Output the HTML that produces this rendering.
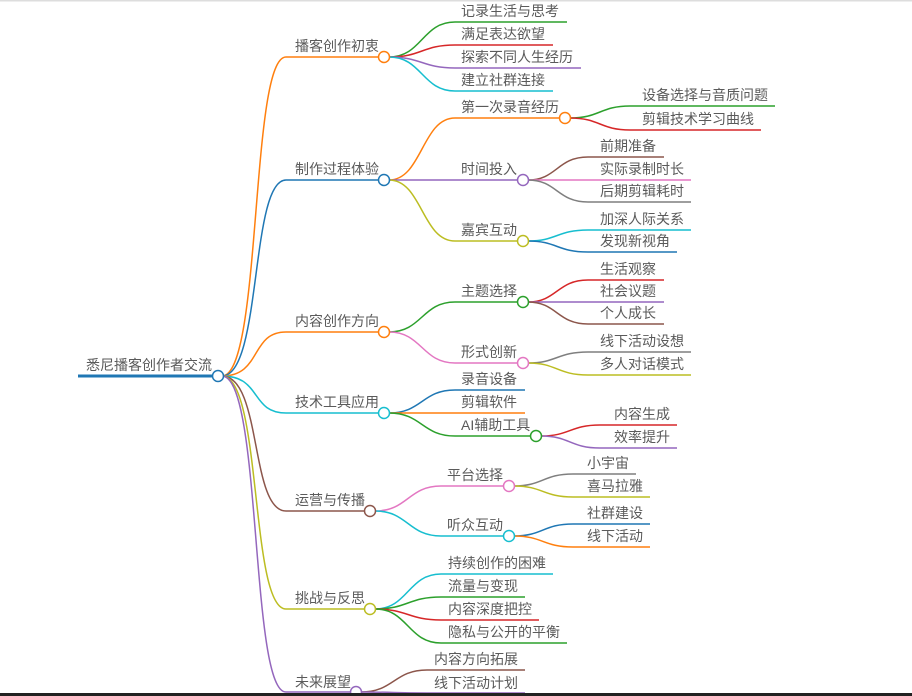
<!DOCTYPE html>
<html><head><meta charset="utf-8"><style>
html,body{margin:0;padding:0;background:#fff;width:912px;height:696px;overflow:hidden}
svg{display:block}
text{font-family:"Liberation Sans","Noto Sans CJK SC",sans-serif;font-size:14px;fill:#5a5a5a}
path,line{fill:none;stroke-width:1.5}
circle{fill:#fff;stroke-width:1.5}
</style></head><body>
<svg width="912" height="696" viewBox="0 0 912 696">
<rect x="0" y="0" width="912" height="1.5" fill="#ddd"/>
<line x1="78" y1="376" x2="213" y2="376" stroke="#1f77b4" style="stroke-width:3"/>
<text x="86" y="370">悉尼播客创作者交流</text>
<g style="stroke-width:2">
<path d="M222 376 C262 376 250 57 286 57 L379 57" stroke="#ff7f0e"/>
<path d="M222 376 C262 376 250 180 286 180 L379 180" stroke="#1f77b4"/>
<path d="M222 376 C262 376 250 332 286 332 L379 332" stroke="#ff7f0e"/>
<path d="M222 376 C262 376 250 413 286 413 L379 413" stroke="#17becf"/>
<path d="M222 376 C262 376 250 511 286 511 L365 511" stroke="#8c564b"/>
<path d="M222 376 C262 376 250 609 286 609 L365 609" stroke="#bcbd22"/>
<path d="M222 376 C262 376 250 692 286 692 L351 692" stroke="#9467bd"/>
</g>
<circle cx="218" cy="376" r="5.5" stroke="#1f77b4"/>
<text x="295" y="51">播客创作初衷</text>
<text x="295" y="174">制作过程体验</text>
<text x="295" y="326">内容创作方向</text>
<text x="295" y="407">技术工具应用</text>
<text x="295" y="505">运营与传播</text>
<text x="295" y="603">挑战与反思</text>
<text x="295" y="687">未来展望</text>
<path d="M389 57 C422 57 422 22 455 22 L567 22" stroke="#2ca02c"/>
<path d="M389 57 C422 57 422 45 455 45 L553 45" stroke="#d62728"/>
<path d="M389 57 C422 57 422 68 455 68 L581 68" stroke="#9467bd"/>
<path d="M389 57 C422 57 422 91 455 91 L553 91" stroke="#17becf"/>
<circle cx="384" cy="57" r="5.5" stroke="#ff7f0e"/>
<text x="461" y="16">记录生活与思考</text>
<text x="461" y="39">满足表达欲望</text>
<text x="461" y="62">探索不同人生经历</text>
<text x="461" y="85">建立社群连接</text>
<path d="M389 180 C422 180 422 118 455 118 L560 118" stroke="#ff7f0e"/>
<path d="M389 180 C422 180 422 180 455 180 L518 180" stroke="#9467bd"/>
<path d="M389 180 C422 180 422 241 455 241 L518 241" stroke="#bcbd22"/>
<circle cx="384" cy="180" r="5.5" stroke="#1f77b4"/>
<text x="461" y="112">第一次录音经历</text>
<text x="461" y="174">时间投入</text>
<text x="461" y="235">嘉宾互动</text>
<path d="M570 118 C600 118 600 106 630 106 L775 106" stroke="#2ca02c"/>
<path d="M570 118 C600 118 600 130 630 130 L761 130" stroke="#d62728"/>
<circle cx="565" cy="118" r="5.5" stroke="#ff7f0e"/>
<text x="642" y="100">设备选择与音质问题</text>
<text x="642" y="124">剪辑技术学习曲线</text>
<path d="M528 180 C557 180 557 157 588 157 L664 157" stroke="#8c564b"/>
<path d="M528 180 L691 180" stroke="#e377c2"/>
<path d="M528 180 C557 180 557 202 588 202 L691 202" stroke="#7f7f7f"/>
<circle cx="523" cy="180" r="5.5" stroke="#9467bd"/>
<text x="600" y="151">前期准备</text>
<text x="600" y="174">实际录制时长</text>
<text x="600" y="196">后期剪辑耗时</text>
<path d="M528 241 C557 241 557 230 588 230 L691 230" stroke="#17becf"/>
<path d="M528 241 C557 241 557 252 588 252 L677 252" stroke="#1f77b4"/>
<circle cx="523" cy="241" r="5.5" stroke="#bcbd22"/>
<text x="600" y="224">加深人际关系</text>
<text x="600" y="246">发现新视角</text>
<path d="M389 332 C422 332 422 302 455 302 L518 302" stroke="#2ca02c"/>
<path d="M389 332 C422 332 422 363 455 363 L518 363" stroke="#e377c2"/>
<circle cx="384" cy="332" r="5.5" stroke="#ff7f0e"/>
<text x="461" y="296">主题选择</text>
<text x="461" y="357">形式创新</text>
<path d="M528 302 C557 302 557 280 588 280 L664 280" stroke="#d62728"/>
<path d="M528 302 L664 302" stroke="#9467bd"/>
<path d="M528 302 C557 302 557 324 588 324 L664 324" stroke="#8c564b"/>
<circle cx="523" cy="302" r="5.5" stroke="#2ca02c"/>
<text x="600" y="274">生活观察</text>
<text x="600" y="296">社会议题</text>
<text x="600" y="318">个人成长</text>
<path d="M528 363 C557 363 557 352 588 352 L691 352" stroke="#7f7f7f"/>
<path d="M528 363 C557 363 557 375 588 375 L691 375" stroke="#bcbd22"/>
<circle cx="523" cy="363" r="5.5" stroke="#e377c2"/>
<text x="600" y="346">线下活动设想</text>
<text x="600" y="369">多人对话模式</text>
<path d="M389 413 C422 413 422 390 455 390 L525 390" stroke="#1f77b4"/>
<path d="M389 413 L525 413" stroke="#ff7f0e"/>
<path d="M389 413 C422 413 422 436 455 436 L531 436" stroke="#2ca02c"/>
<circle cx="384" cy="413" r="5.5" stroke="#17becf"/>
<text x="461" y="384">录音设备</text>
<text x="461" y="407">剪辑软件</text>
<text x="461" y="430">AI辅助工具</text>
<path d="M541 436 C570 436 570 425 600 425 L677 425" stroke="#d62728"/>
<path d="M541 436 C570 436 570 448 600 448 L677 448" stroke="#9467bd"/>
<circle cx="536" cy="436" r="5.5" stroke="#2ca02c"/>
<text x="614" y="419">内容生成</text>
<text x="614" y="442">效率提升</text>
<path d="M375 511 C408 511 408 486 441 486 L504 486" stroke="#e377c2"/>
<path d="M375 511 C408 511 408 536 441 536 L504 536" stroke="#17becf"/>
<circle cx="370" cy="511" r="5.5" stroke="#8c564b"/>
<text x="447" y="480">平台选择</text>
<text x="447" y="530">听众互动</text>
<path d="M514 486 C543 486 543 474 573 474 L636 474" stroke="#7f7f7f"/>
<path d="M514 486 C543 486 543 497 573 497 L650 497" stroke="#bcbd22"/>
<circle cx="509" cy="486" r="5.5" stroke="#e377c2"/>
<text x="587" y="468">小宇宙</text>
<text x="587" y="491">喜马拉雅</text>
<path d="M514 536 C543 536 543 524 573 524 L650 524" stroke="#1f77b4"/>
<path d="M514 536 C543 536 543 547 573 547 L650 547" stroke="#ff7f0e"/>
<circle cx="509" cy="536" r="5.5" stroke="#17becf"/>
<text x="587" y="518">社群建设</text>
<text x="587" y="541">线下活动</text>
<path d="M375 609 C408 609 408 574 441 574 L553 574" stroke="#17becf"/>
<path d="M375 609 C408 609 408 597 441 597 L525 597" stroke="#2ca02c"/>
<path d="M375 609 C408 609 408 620 441 620 L539 620" stroke="#d62728"/>
<path d="M375 609 C408 609 408 643 441 643 L567 643" stroke="#2ca02c"/>
<circle cx="370" cy="609" r="5.5" stroke="#bcbd22"/>
<text x="448" y="568">持续创作的困难</text>
<text x="448" y="591">流量与变现</text>
<text x="448" y="614">内容深度把控</text>
<text x="448" y="637">隐私与公开的平衡</text>
<path d="M361 692 C394 692 394 670 427 670 L525 670" stroke="#8c564b"/>
<path d="M361 692 C394 692 394 693 427 693 L525 693" stroke="#9467bd"/>
<circle cx="356" cy="692" r="5.5" stroke="#9467bd"/>
<text x="434" y="664">内容方向拓展</text>
<text x="434" y="688">线下活动计划</text>
<rect x="0" y="693" width="912" height="3" fill="#222"/>
</svg>
</body></html>
